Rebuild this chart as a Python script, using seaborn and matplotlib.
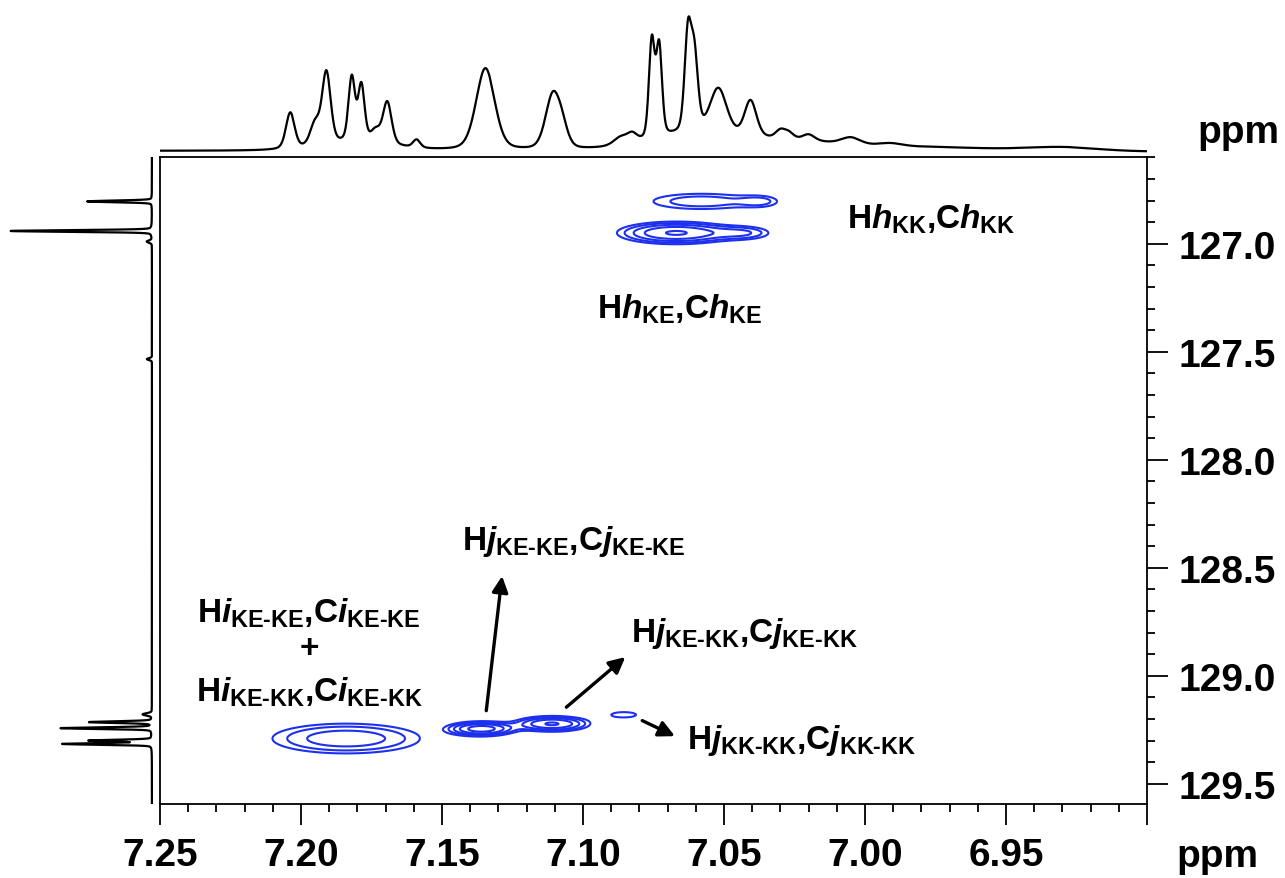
import numpy as np
import pandas as pd
import matplotlib
matplotlib.use("Agg")
import matplotlib.pyplot as plt
import seaborn as sns

# ---------------- data ----------------
# 1H projection (top trace): peak position (ppm), height, width (ppm)
h_ppm = [7.2038, 7.1950, 7.1910, 7.1820, 7.1786, 7.1735, 7.1694, 7.1590,
         7.1346, 7.1108, 7.1075, 7.0865, 7.0825, 7.0756, 7.0730, 7.0628,
         7.0605, 7.0520, 7.0406, 7.0300, 7.0270, 7.0200, 7.0050, 6.9910,
         6.9300, 7.1800, 7.0600, 7.0250, 6.9800]
h_height = [36, 22, 72, 64, 56, 12, 42, 8,
            82, 52, 18, 8, 8, 97, 90, 96,
            74, 45, 36, 8, 6, 6, 7, 3,
            4, 8, 16, 8, 4]
h_width = [0.0036, 0.0040, 0.0036, 0.0027, 0.0027, 0.0040, 0.0036, 0.0030,
           0.0078, 0.0060, 0.0050, 0.0060, 0.0040, 0.0024, 0.0024, 0.0028,
           0.0030, 0.0070, 0.0050, 0.0040, 0.0040, 0.0050, 0.0080, 0.0100,
           0.0300, 0.0300, 0.0400, 0.0400, 0.0600]

# 13C projection (left trace)
c_ppm = [126.804, 126.941, 126.990, 127.534, 129.178, 129.214, 129.242, 129.2995, 129.315]
c_height = [64, 140, 5, 5, 9, 62, 90, 62, 88]
c_width = [0.009, 0.009, 0.012, 0.010, 0.012, 0.009, 0.009, 0.009, 0.009]

# 2D cross peaks: 1H centre, 13C centre, amplitude, 1H sigma, 13C sigma
xp_h = [7.0580, 7.0370, 7.0670, 7.0426, 7.1840, 7.1360, 7.1110, 7.0855]
xp_c = [126.804, 126.804, 126.950, 126.950, 129.290, 129.245, 129.222, 129.180]
xp_amp = [1.9, 1.2, 4.6, 1.8, 2.8, 5.5, 4.6, 1.2]
xp_sh = [0.0150, 0.0050, 0.0120, 0.0070, 0.0182, 0.0067, 0.0077, 0.0071]
xp_sc = [0.031, 0.020, 0.030, 0.022, 0.048, 0.019, 0.021, 0.020]
levels = [1.0, 1.45, 2.1, 3.0, 4.4]

x_ticks = [7.25, 7.20, 7.15, 7.10, 7.05, 7.00, 6.95]
y_ticks = [127.0, 127.5, 128.0, 128.5, 129.0, 129.5]

# annotations: (label parts, x, y, ha)
ann_text = [("h", "KK"), ("h", "KE"), ("j", "KE-KE"), ("i", "KE-KE"),
            ("i", "KE-KK"), ("j", "KE-KK"), ("j", "KK-KK")]
ann_x = [7.0065, 7.0950, 7.1430, 7.1972, 7.1972, 7.0830, 7.0630]
ann_y = [126.884, 127.300, 128.374, 128.708, 129.070, 128.800, 129.296]
ann_ha = ["left", "left", "left", "center", "center", "left", "left"]
plus_xy = (7.1972, 128.875)

# arrows: tail -> head (ppm)
arr_tail = [(7.1343, 129.161), (7.1059, 129.145), (7.0790, 129.207)]
arr_head = [(7.1287, 128.538), (7.0850, 128.913), (7.0674, 129.279)]

# ---------------- build traces ----------------
def pv(x, x0, h, w, eta=0.3):
    u = (x - x0) / w
    return h * (eta / (1 + 4 * u ** 2) + (1 - eta) * np.exp(-4 * np.log(2) * u ** 2))

XLIM = (7.25, 6.90)
YLIM = (129.593, 126.6)

xg = np.linspace(6.90, 7.25, 3000)
top = np.zeros_like(xg)
for p, h, w in zip(h_ppm, h_height, h_width):
    top += pv(xg, p, h, w)
top += 1.0 * (xg - 6.90) / 0.35  # slight baseline tilt
top_df = pd.DataFrame({"ppm": xg, "I": top})

yg = np.linspace(126.6, 129.6, 4000)
left = np.zeros_like(yg)
for p, h, w in zip(c_ppm, c_height, c_width):
    left += pv(yg, p, h, w, eta=0.15)
left_df = pd.DataFrame({"ppm": yg, "I": left})

gx = np.linspace(6.90, 7.25, 700)
gy = np.linspace(126.6, 129.6, 1500)
GX, GY = np.meshgrid(gx, gy)
Z = np.zeros_like(GX)
for hx, cy, a, sx, sy in zip(xp_h, xp_c, xp_amp, xp_sh, xp_sc):
    Z += a * np.exp(-0.5 * (((GX - hx) / sx) ** 2 + ((GY - cy) / sy) ** 2))

# ---------------- plotting ----------------
sns.set_theme(style="ticks")
plt.rcParams["font.family"] = ["Liberation Sans", "DejaVu Sans"]
plt.rcParams["font.weight"] = "bold"
for key in ["text.color", "axes.labelcolor", "xtick.color", "ytick.color",
            "axes.edgecolor", "xtick.labelcolor", "ytick.labelcolor"]:
    plt.rcParams[key] = "black"
plt.rcParams["mathtext.fontset"] = "custom"
plt.rcParams["mathtext.rm"] = "Liberation Sans:bold"
plt.rcParams["mathtext.it"] = "Liberation Sans:bold:italic"
plt.rcParams["mathtext.bf"] = "Liberation Sans:bold"
plt.rcParams["mathtext.sf"] = "Liberation Sans:bold"

W, H = 1285, 879
fig = plt.figure(figsize=(W / 100, H / 100), dpi=100)
ax = fig.add_axes([160 / W, 1 - 805 / H, 987 / W, (805 - 158.3) / H])
axt = fig.add_axes([160 / W, 1 - 156 / H, 987 / W, 146 / H])
axl = fig.add_axes([0, 1 - 805 / H, 158 / W, (805 - 158.3) / H])

# contours
ax.contour(GX, GY, Z, levels=levels, colors="#1d30ee", linewidths=1.5)
ax.set_xlim(*XLIM)
ax.set_ylim(*YLIM)
ax.yaxis.tick_right()
ax.set_xticks(x_ticks + [6.90], labels=[f"{t:.2f}" for t in x_ticks] + [""],
              fontsize=28, fontweight="bold", color="black")
ax.set_xticks(np.round(np.arange(6.91, 7.25, 0.01), 2), minor=True)
ax.set_yticks(y_ticks, labels=[f"{t:.1f}" for t in y_ticks], fontsize=28,
              fontweight="bold", color="black")
ax.set_yticks(np.round(np.arange(126.6, 129.59, 0.1), 1), minor=True)
ax.tick_params(axis="both", which="major", length=15, width=1.3, direction="out", color="black")
ax.tick_params(axis="both", which="minor", length=5.5, width=1.3, direction="out", color="black")
ax.tick_params(axis="x", pad=9)
ax.tick_params(axis="y", pad=8, left=False, labelleft=False, right=True, labelright=True)
ax.tick_params(axis="y", which="minor", left=False, right=True)
for s in ax.spines.values():
    s.set_linewidth(1.3)
    s.set_color("black")
ax.set_xlabel("")
ax.set_ylabel("")

# annotations
def lab(letter, sub):
    return (rf"$\text{{H}}\mathit{{{letter}}}_{{\text{{{sub}}}}}"
            rf"\text{{,C}}\mathit{{{letter}}}_{{\text{{{sub}}}}}$")

for (letter, sub), x, y, ha in zip(ann_text, ann_x, ann_y, ann_ha):
    ax.text(x, y, lab(letter, sub), ha=ha, va="center", fontsize=24, color="black")
ax.text(plus_xy[0], plus_xy[1], "+", ha="center", va="center", fontsize=24,
        fontweight="bold", color="black")
for t, h in zip(arr_tail, arr_head):
    ax.annotate("", xy=h, xytext=t,
                arrowprops=dict(arrowstyle="-|>", color="black", lw=2.4,
                                mutation_scale=24, shrinkA=0, shrinkB=0))

# top projection
sns.lineplot(data=top_df, x="ppm", y="I", ax=axt, color="black", lw=1.6,
             estimator=None, sort=False)
axt.set_xlim(*XLIM)
axt.set_ylim(-3, 143)
axt.axis("off")

# left projection
sns.lineplot(data=left_df, x="I", y="ppm", ax=axl, color="black", lw=1.6,
             estimator=None, sort=False)
axl.set_xlim(150, -6)
axl.set_ylim(*YLIM)
axl.axis("off")

fig.text(1217 / W, 1 - 857 / H, "ppm", ha="center", va="center", fontsize=28,
         fontweight="bold", color="black")
fig.text(1238 / W, 1 - 133 / H, "ppm", ha="center", va="center", fontsize=28,
         fontweight="bold", color="black")

fig.savefig("out.png", dpi=100)
